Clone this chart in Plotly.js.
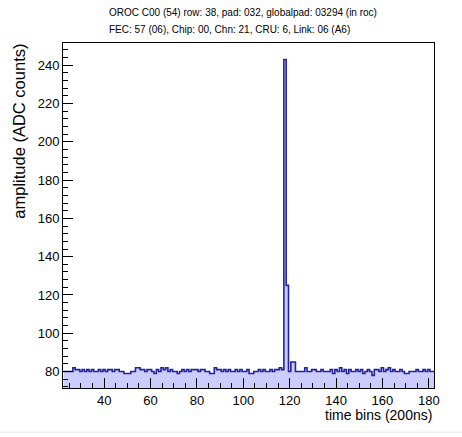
<!DOCTYPE html>
<html>
<head>
<meta charset="utf-8">
<script src="https://cdn.plot.ly/plotly-3.0.1.min.js"></script>
<style>html,body{margin:0;padding:0;background:#fff;}#chart{width:462px;height:437px;}</style>
</head>
<body>
<div id="chart"></div>
<script>
// time bin centres
var timeBins = [];
for (var t = 23; t <= 182; t++) timeBins.push(t);
// amplitude (ADC counts) per time bin
var amplitude = [
 80,80,80,80,82,81,81,80,81,80, // 23-32
 81,80,81,80,80,81,80,81,80,81, // 33-42
 81,80,81,81,80,80,79,79,79,80, // 43-52
 80,82,82,81,81,80,81,81,80,79, // 53-62
 81,80,82,81,82,80,81,80,80,79, // 63-72
 80,81,80,81,80,81,81,81,80,81, // 73-82
 81,80,80,79,79,82,81,81,80,81, // 83-92
 80,81,80,80,81,80,81,80,80,81, // 93-102
 79,79,80,80,81,80,81,80,80,81, // 103-112
 80,81,81,82,81,243,125,80,85,85, // 113-122
 80,80,80,80,82,80,80,81,81,80, // 123-132
 80,81,80,80,80,81,79,81,80,82, // 133-142
 80,81,79,81,80,80,81,80,81,79, // 143-152
 80,81,80,78,81,81,80,82,80,81, // 153-162
 82,80,81,80,80,81,80,79,79,80, // 163-172
 80,80,81,80,80,81,80,81,80,80  // 173-182
];
var titleLine1 = "OROC C00 (54) row: 38, pad: 032, globalpad: 03294 (in roc)";
var titleLine2 = "FEC: 57 (06), Chip: 00, Chn: 21, CRU: 6, Link: 06 (A6)";
var xTitle = "time bins (200ns)";
var yTitle = "amplitude (ADC counts)";

// step outline from bin low edges
var edges = timeBins.map(function(c){ return c - 0.5; });
edges.push(timeBins[timeBins.length-1] + 0.5);
var stepY = amplitude.slice();
stepY.push(amplitude[amplitude.length-1]);

var font = "Liberation Sans, Arial, sans-serif";
var trace = {
  x: edges, y: stepY, type: 'scatter', mode: 'lines',
  line: {shape: 'hv', color: '#2323a0', width: 1.6},
  fill: 'tozeroy', fillcolor: 'rgb(204,204,255)',
  hoverinfo: 'skip'
};
var layout = {
  width: 462, height: 437,
  margin: {l: 63, r: 28, t: 43, b: 49},
  paper_bgcolor: '#fff', plot_bgcolor: '#fff',
  showlegend: false,
  font: {family: font, color: '#000'},
  xaxis: {
    range: [22.25, 182.25], tick0: 0, dtick: 20, ticks: 'inside', ticklen: 10,
    tickcolor: '#000', showline: true, mirror: true, linecolor: '#000', linewidth: 1,
    showgrid: false, zeroline: false, tickfont: {size: 13, family: font},
    minor: {dtick: 5, ticks: 'inside', ticklen: 5, tickcolor: '#000', showgrid: false}
  },
  yaxis: {
    range: [71.4, 251.6], tick0: 0, dtick: 20, ticks: 'inside', ticklen: 10,
    tickcolor: '#000', showline: true, mirror: true, linecolor: '#000', linewidth: 1,
    showgrid: false, zeroline: false, tickfont: {size: 13, family: font},
    minor: {dtick: 4, ticks: 'inside', ticklen: 5, tickcolor: '#000', showgrid: false}
  },
  annotations: [
    {text: titleLine1, xref: 'paper', yref: 'paper', x: 0.118, y: 1.087, xanchor: 'left', yanchor: 'middle', showarrow: false, font: {size: 10, family: font}},
    {text: titleLine2, xref: 'paper', yref: 'paper', x: 0.118, y: 1.040, xanchor: 'left', yanchor: 'middle', showarrow: false, font: {size: 10, family: font}},
    {text: xTitle, xref: 'paper', yref: 'paper', x: 1, y: -0.077, xanchor: 'right', yanchor: 'middle', showarrow: false, font: {size: 14, family: font}},
    {text: yTitle, xref: 'paper', yref: 'paper', x: -0.118, y: 1.003, xanchor: 'center', yanchor: 'top', textangle: -90, showarrow: false, font: {size: 16.5, family: font}}
  ],
  shapes: [
    {type: 'line', xref: 'paper', yref: 'paper', x0: -0.2, x1: 1.1, y0: -0.128, y1: -0.128, line: {color: '#e8e8e8', width: 1}}
  ]
};
Plotly.newPlot('chart', [trace], layout, {staticPlot: true, displayModeBar: false});
</script>
</body>
</html>
